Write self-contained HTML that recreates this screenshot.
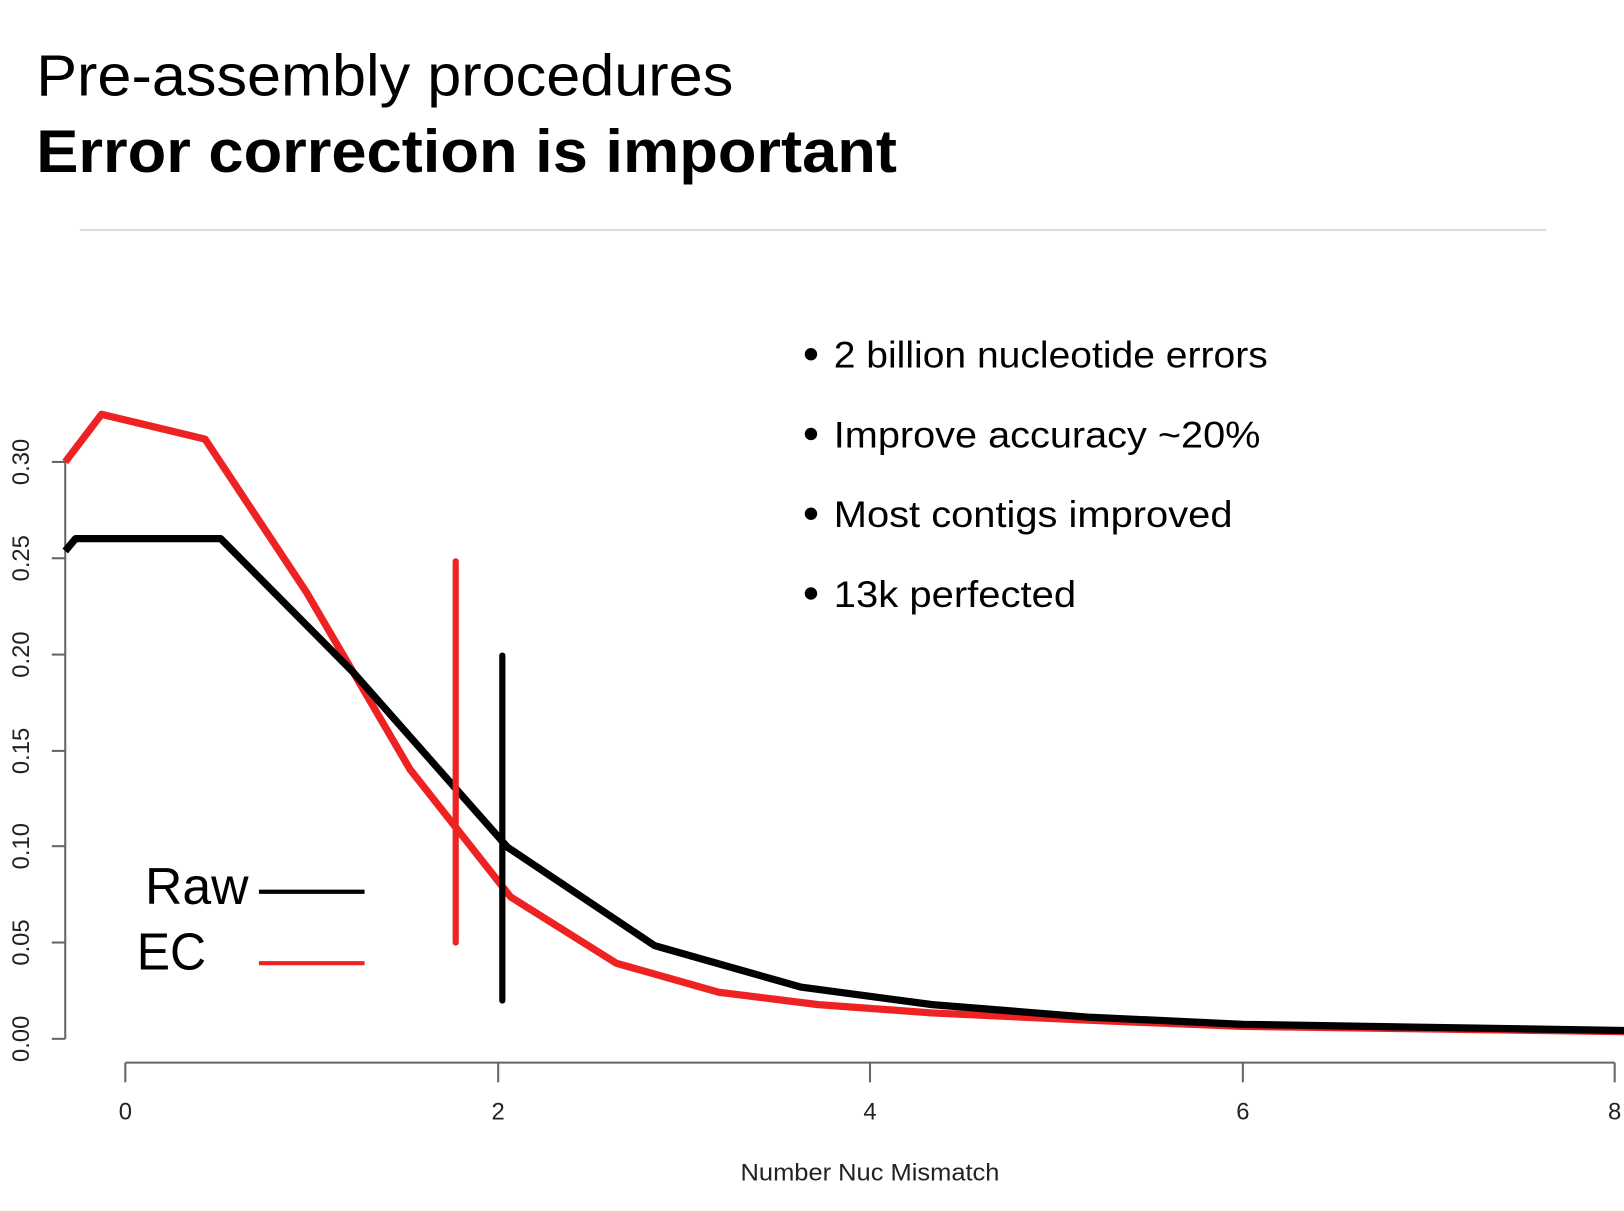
<!DOCTYPE html>
<html><head><style>html,body{margin:0;padding:0;background:#fff;overflow:hidden}</style></head>
<body>
<svg width="1624" height="1206" viewBox="0 0 1568 1164.4" xmlns="http://www.w3.org/2000/svg" font-family="Liberation Sans, sans-serif">
<rect width="1568" height="1165" fill="#fff"/>
<text x="35" y="92" font-size="56" fill="#000" textLength="673" lengthAdjust="spacingAndGlyphs">Pre-assembly procedures</text>
<text x="35" y="166" font-size="58" fill="#000" font-weight="bold" textLength="831" lengthAdjust="spacingAndGlyphs">Error correction is important</text>
<line x1="77" y1="222" x2="1493" y2="222" stroke="#ddd" stroke-width="2"/>
<g fill="#000" font-size="36">
<circle cx="783" cy="342" r="6"/><text x="805" y="355" textLength="419" lengthAdjust="spacingAndGlyphs">2 billion nucleotide errors</text>
<circle cx="783" cy="419" r="6"/><text x="805" y="432" textLength="412" lengthAdjust="spacingAndGlyphs">Improve accuracy ~20%</text>
<circle cx="783" cy="496" r="6"/><text x="805" y="509" textLength="385" lengthAdjust="spacingAndGlyphs">Most contigs improved</text>
<circle cx="783" cy="573" r="6"/><text x="805" y="586" textLength="234" lengthAdjust="spacingAndGlyphs">13k perfected</text>
</g>
<g stroke="#666" stroke-width="2" fill="none">
<line x1="63" y1="446" x2="63" y2="1003"/>
<line x1="50" y1="446" x2="63" y2="446"/><line x1="50" y1="539" x2="63" y2="539"/><line x1="50" y1="632" x2="63" y2="632"/><line x1="50" y1="725" x2="63" y2="725"/><line x1="50" y1="817" x2="63" y2="817"/><line x1="50" y1="910" x2="63" y2="910"/><line x1="50" y1="1003" x2="63" y2="1003"/>
<line x1="121" y1="1026" x2="1559" y2="1026"/>
<line x1="121" y1="1026" x2="121" y2="1045"/><line x1="481" y1="1026" x2="481" y2="1045"/><line x1="840" y1="1026" x2="840" y2="1045"/><line x1="1200" y1="1026" x2="1200" y2="1045"/><line x1="1559" y1="1026" x2="1559" y2="1045"/>
</g>
<g font-size="23" fill="#222" text-anchor="middle">
<text transform="translate(28,446) rotate(-90)">0.30</text>
<text transform="translate(28,539) rotate(-90)">0.25</text>
<text transform="translate(28,632) rotate(-90)">0.20</text>
<text transform="translate(28,725) rotate(-90)">0.15</text>
<text transform="translate(28,817) rotate(-90)">0.10</text>
<text transform="translate(28,910) rotate(-90)">0.05</text>
<text transform="translate(28,1003) rotate(-90)">0.00</text>
<text x="121" y="1081">0</text><text x="481" y="1081">2</text><text x="840" y="1081">4</text><text x="1200" y="1081">6</text><text x="1559" y="1081">8</text>
<text x="840" y="1140" font-size="23" textLength="250" lengthAdjust="spacingAndGlyphs">Number Nuc Mismatch</text>
</g>
<polyline fill="none" stroke="#ee2222" stroke-width="7" stroke-linejoin="round" points="63,446 98,400 198,424 296,572 396,743 493,866 595,930 694,958 790,970 900,978 1050,985 1200,991 1568,996"/>
<polyline fill="none" stroke="#000" stroke-width="7" stroke-linejoin="round" points="63,532 73,520 213,520 340,648 490,818 632,913 773,953 900,970 1050,982 1200,989 1568,995"/>
<line x1="440" y1="542" x2="440" y2="910" stroke="#ee2222" stroke-width="6" stroke-linecap="round"/>
<line x1="485" y1="633" x2="485" y2="966" stroke="#000" stroke-width="6" stroke-linecap="round"/>
<text x="140" y="873" font-size="50" fill="#000" textLength="100" lengthAdjust="spacingAndGlyphs">Raw</text>
<text x="132" y="936" font-size="50" fill="#000" textLength="67" lengthAdjust="spacingAndGlyphs">EC</text>
<line x1="250" y1="861" x2="352" y2="861" stroke="#000" stroke-width="4"/>
<line x1="250" y1="930" x2="352" y2="930" stroke="#ee2222" stroke-width="4"/>
</svg>
</body></html>
